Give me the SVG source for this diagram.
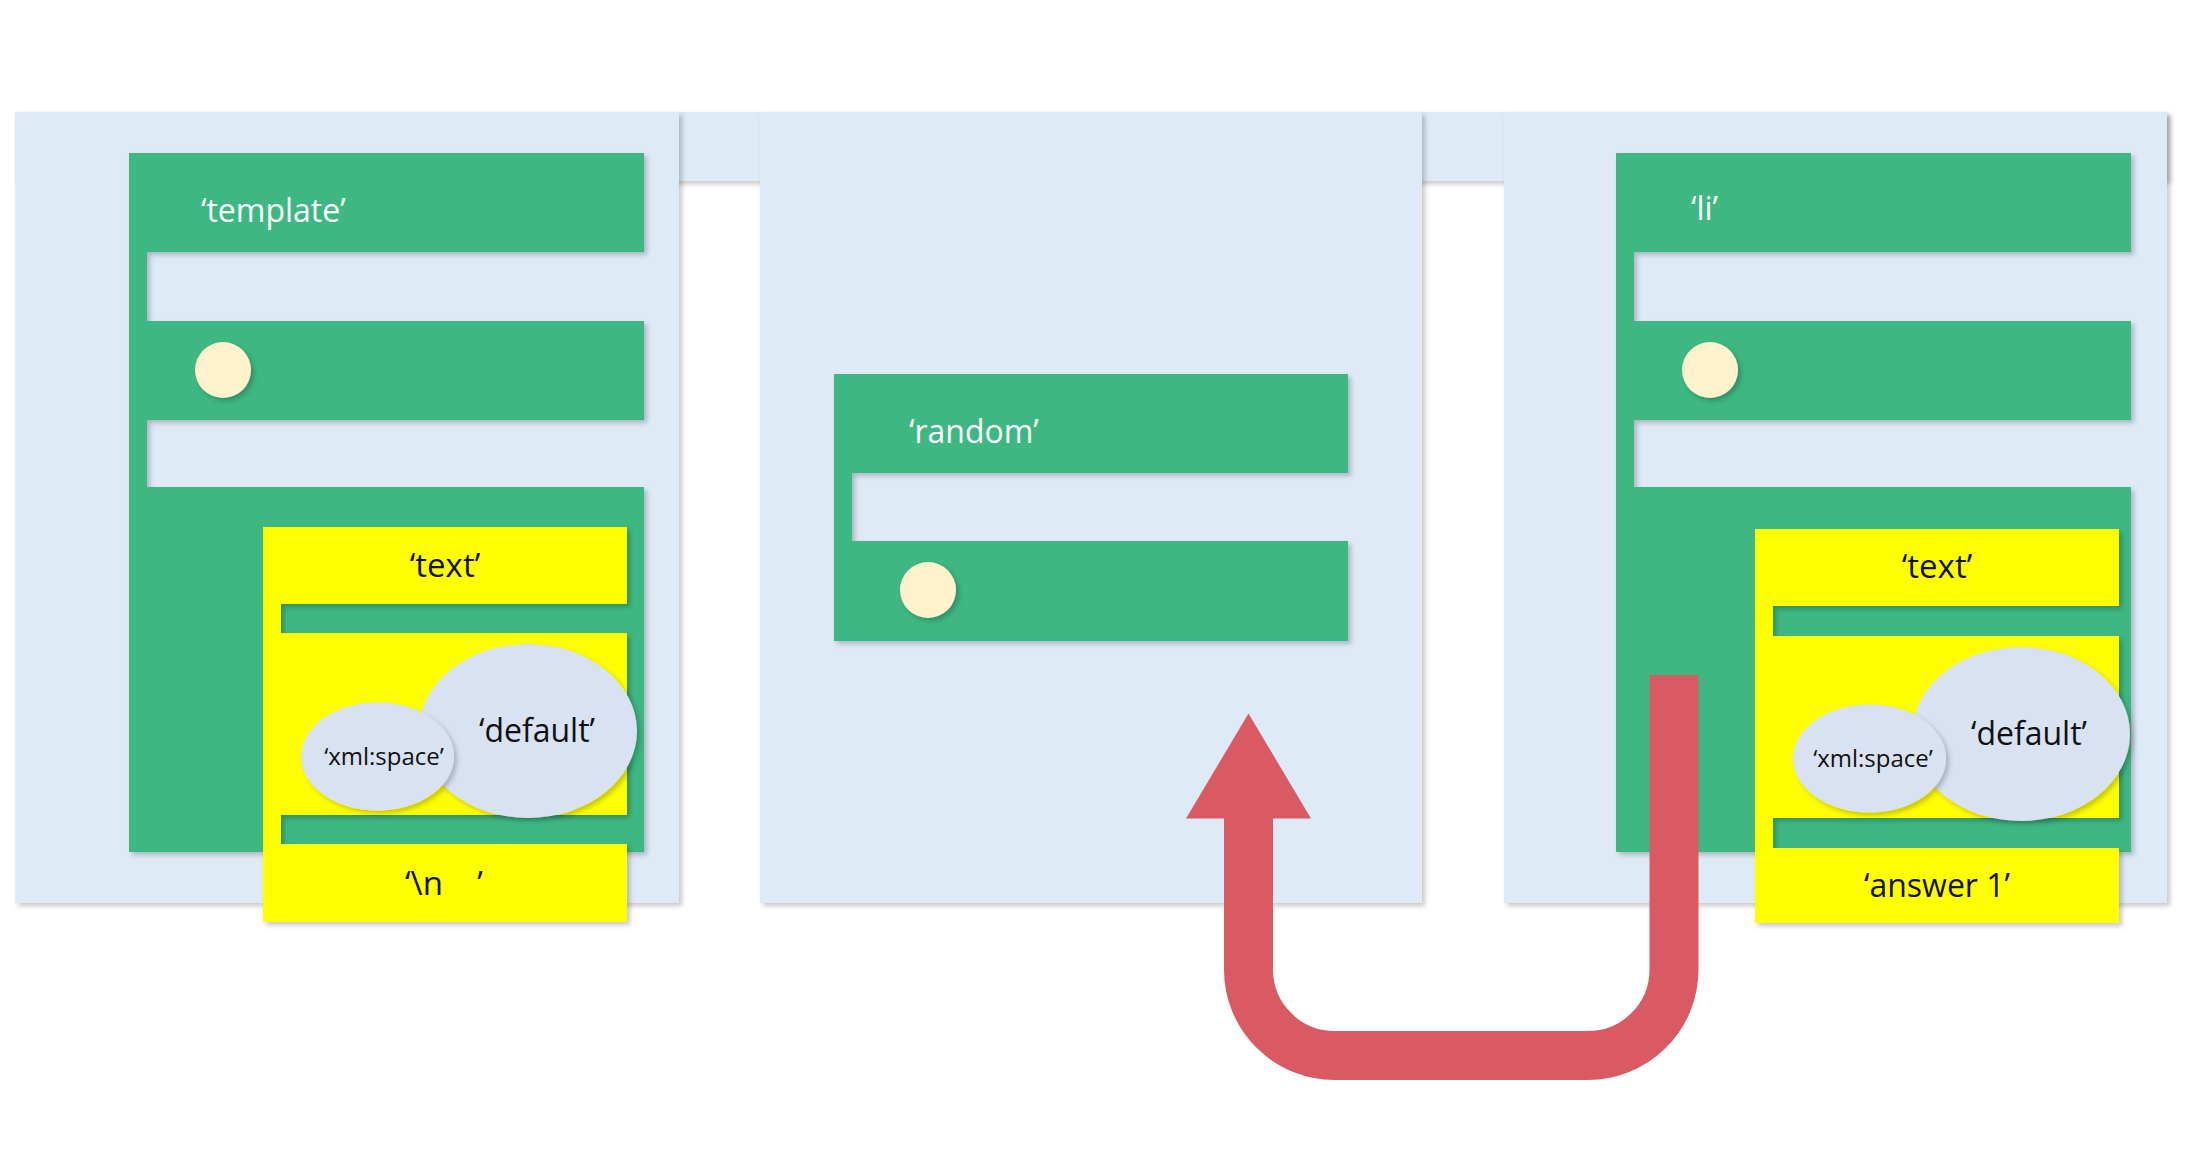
<svg xmlns="http://www.w3.org/2000/svg" width="2188" height="1162" viewBox="0 0 2188 1162">
<defs>
<filter id="sh" x="-10%" y="-10%" width="130%" height="130%">
<feDropShadow dx="3" dy="3" stdDeviation="2.5" flood-color="#000" flood-opacity="0.22"/>
</filter>
<marker id="head" markerUnits="userSpaceOnUse" markerWidth="106" markerHeight="126" viewBox="0 0 106 126" refX="0.5" refY="62.5" orient="auto">
<path d="M0,0 L105,62.5 L0,125 Z" fill="#D95A63"/>
</marker>
<style>
.panel{fill:#DEEAF6;filter:url(#sh)}
.green{fill:#3CB882;filter:url(#sh)}
.yellow{fill:#FFFF00;filter:url(#sh)}
.dot{fill:#FFF2CC;filter:url(#sh)}
.ell{fill:#D9E2F2;filter:url(#sh)}
.wt{font-family:"Open Sans","Liberation Sans",sans-serif;font-size:32px;fill:#FFFFFF}
.bt{font-family:"Open Sans","Liberation Sans",sans-serif;font-size:32px;fill:#111111}
.sm{font-size:24px}
.arrow{fill:none;stroke:#D95A63;stroke-width:49;stroke-linecap:butt;stroke-linejoin:round}
</style>
</defs>
<rect width="2188" height="1162" fill="#FFFFFF"/>
<g id="band"><rect class="panel" x="15" y="112" width="2152" height="69"/></g>

<g id="panel-template">
<rect class="panel" x="15" y="112" width="664" height="791"/>
<path class="green" d="M129,153 H644 V252 H147 V321 H644 V420 H147 V487 H644 V852 H129 Z"/>
<text class="wt" x="201" y="222">‘template’</text>
<circle class="dot" cx="223" cy="370" r="28"/>
<g id="text-left">
<path class="yellow" d="M263,527 H627 V604 H281 V633 H627 V815 H281 V844 H627 V922 H263 Z"/>
<text class="bt" x="445" y="577" text-anchor="middle" style="font-size:33px">‘text’</text>
<ellipse class="ell" cx="528" cy="731" rx="109" ry="87"/>
<text class="bt" x="537" y="742" text-anchor="middle">‘default’</text>
<ellipse class="ell" cx="377.5" cy="756.5" rx="76.5" ry="54"/>
<text class="bt sm" x="384" y="765" text-anchor="middle">‘xml:space’</text>
<text class="bt" x="405" y="895" xml:space="preserve" style="font-size:33px">‘\n    ’</text>
</g>
</g>

<g id="panel-random">
<rect class="panel" x="760" y="112" width="662" height="791"/>
<path class="green" d="M834,374 H1348 V473 H852 V541 H1348 V641 H834 Z"/>
<text class="wt" x="909" y="443">‘random’</text>
<circle class="dot" cx="928" cy="590" r="28"/>
</g>

<g id="panel-li">
<rect class="panel" x="1504" y="112" width="663" height="791"/>
<path class="green" d="M1616,153 H2131 V252 H1634 V321 H2131 V420 H1634 V487 H2131 V852 H1616 Z"/>
<text class="wt" x="1691" y="220">‘li’</text>
<circle class="dot" cx="1710" cy="370" r="28"/>
<g id="text-right">
<path class="yellow" d="M1755,529 H2119 V606 H1773 V636 H2119 V818 H1773 V848 H2119 V923 H1755 Z"/>
<text class="bt" x="1937" y="578" text-anchor="middle" style="font-size:33px">‘text’</text>
<ellipse class="ell" cx="2021" cy="734" rx="109" ry="87"/>
<text class="bt" x="2029" y="745" text-anchor="middle">‘default’</text>
<ellipse class="ell" cx="1869.5" cy="758.5" rx="76.5" ry="54"/>
<text class="bt sm" x="1873" y="767" text-anchor="middle">‘xml:space’</text>
<text class="bt" x="1937" y="897" text-anchor="middle">‘answer 1’</text>
</g>
</g>

<g id="connectors">
<path class="arrow" d="M1674,675 V970 A86,86 0 0 1 1588,1055.5 H1334.5 A86,86 0 0 1 1248.5,970 V818" marker-end="url(#head)"/>
</g>
</svg>
